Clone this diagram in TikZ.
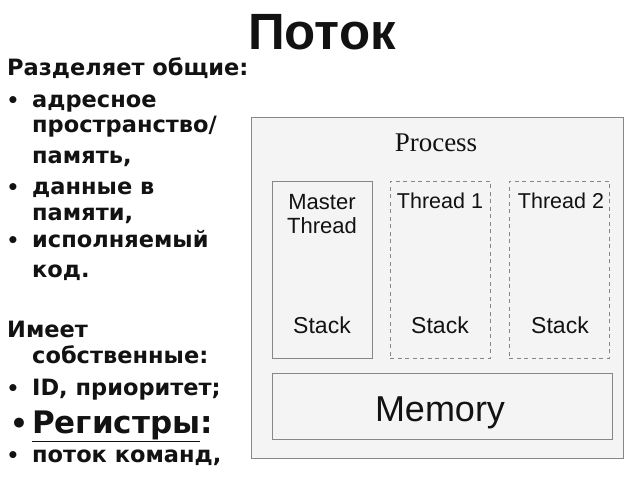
\documentclass[tikz,border=0pt]{standalone}
\usepackage{fontspec}
\setmainfont{Liberation Sans}
\newfontfamily\procfont{Liberation Serif}
\newfontfamily\listfont{DejaVu Sans}
\usetikzlibrary{positioning}
\definecolor{BoxFill}{RGB}{244,244,244}
\definecolor{BoxBorder}{RGB}{135,135,135}
\definecolor{InkDark}{RGB}{18,18,18}

\begin{document}
\begin{tikzpicture}[
  x=1pt, y=-1pt,
  heading/.style={anchor=base, inner sep=0pt, text=InkDark, font=\bfseries\fontsize{51}{58}\selectfont},
  item/.style={anchor=base west, inner sep=0pt, text=InkDark, font=\listfont\bfseries\fontsize{22.5}{26}\selectfont},
  bigitem/.style={item, font=\listfont\bfseries\fontsize{31}{36}\selectfont},
  bul/.style={anchor=base, inner sep=0pt, text=InkDark, font=\listfont\bfseries\fontsize{20}{24}\selectfont},
  bigbul/.style={bul, font=\listfont\bfseries\fontsize{28}{32}\selectfont},
  procbox/.style={rectangle, draw=BoxBorder, fill=BoxFill, line width=0.8pt, anchor=north west, inner sep=0pt},
  masterbox/.style={procbox, minimum width=100pt, minimum height=177pt},
  threadbox/.style={masterbox, dash pattern=on 4pt off 3.5pt},
  label/.style={inner sep=0pt, text=InkDark, font=\fontsize{22}{24}\selectfont, align=center}
]
  \useasboundingbox (0,0) rectangle (640,480);

  % Title
  \node[heading] (title) at (322,49) {Поток};

  % Left column
  \node[item] (shares) at (7,75) {Разделяет общие:};
  \node[bul] (b1) at (13,107) {•};
  \node[item] (addr1) at (32,107) {адресное};
  \node[item] (addr2) at (32,132) {пространство/};
  \node[item] (addr3) at (32,163) {память,};
  \node[bul] (b2) at (13,194) {•};
  \node[item] (data1) at (32,194) {данные в};
  \node[item] (data2) at (32,220) {памяти,};
  \node[bul] (b3) at (13,247) {•};
  \node[item] (code1) at (32,247) {исполняемый};
  \node[item] (code2) at (32,277) {код.};
  \node[item] (owns1) at (7,337) {Имеет};
  \node[item] (owns2) at (32,363) {собственные:};
  \node[bul] (b4) at (13,395) {•};
  \node[item] (ident) at (32,395) {ID, приоритет;};
  \node[bigbul] (b5) at (19,433) {•};
  \node[bigitem] (regs) at (32,433) {\underline{Регистры}:};
  \node[bul] (b6) at (13,462) {•};
  \node[item] (cmds) at (32,462) {поток команд,};

  % Process diagram
  \node[procbox, minimum width=372pt, minimum height=341pt] (process) at (251,117) {};
  \node[inner sep=0pt, text=InkDark, font=\procfont\fontsize{27}{30}\selectfont] (proclabel) at (436,143) {Process};

  \node[masterbox] (master) at (272,181) {};
  \node[threadbox] (thread1) at (390,181) {};
  \node[threadbox] (thread2) at (509,181) {};
  \node[procbox, minimum width=340pt, minimum height=66pt] (memory) at (272,373) {};

  \node[label] (masterlbl) at (322,214) {Master\\Thread};
  \node[label, anchor=base, font=\fontsize{21.5}{24}\selectfont] (t1lbl) at (440,208) {Thread 1};
  \node[label, anchor=base, font=\fontsize{21.5}{24}\selectfont] (t2lbl) at (561,208) {Thread 2};
  \node[label, anchor=base, font=\fontsize{23}{26}\selectfont] (stack0) at (322,333) {Stack};
  \node[label, anchor=base, font=\fontsize{23}{26}\selectfont] (stack1) at (440,333) {Stack};
  \node[label, anchor=base, font=\fontsize{23}{26}\selectfont] (stack2) at (560,333) {Stack};
  \node[label, anchor=base, font=\fontsize{36}{40}\selectfont] (memlbl) at (440,421) {Memory};
\end{tikzpicture}
\end{document}
